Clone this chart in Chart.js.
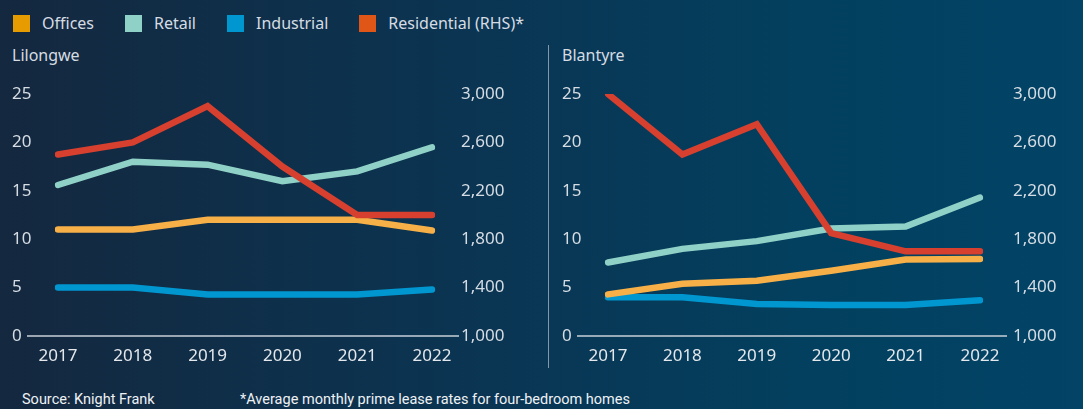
<!DOCTYPE html>
<html>
<head>
<meta charset="utf-8">
<script src="https://cdn.jsdelivr.net/npm/chart.js@4.4.0/dist/chart.umd.min.js"></script>
<style>
  html, body { margin: 0; padding: 0; }
  body {
    width: 1083px; height: 409px; overflow: hidden; position: relative;
    background: linear-gradient(90deg, #14283f 0%, #0a3553 45%, #03405f 75%, #024366 100%);
    font-family: "Noto Sans", sans-serif; color: #d6dce3;
  }
  #legend { position: absolute; left: 13px; top: 12px; display: flex; font-size: 16px; }
  #legend .item { display: flex; align-items: center; margin-right: 31px; }
  #legend .box { width: 17px; height: 17px; margin-right: 12px; }
  .title { position: absolute; top: 44px; font-size: 16px; }
  #divider { position: absolute; left: 548px; top: 45px; width: 1px; height: 323px; background: #8497a8; }
  .note { position: absolute; top: 391px; font-family: "Roboto", sans-serif; font-size: 14.5px; color: #eef1f4; }
  canvas { position: absolute; top: 75px; }
</style>
</head>
<body>
<div id="legend"></div>
<div class="title" style="left:12px">Lilongwe</div>
<div class="title" style="left:562px">Blantyre</div>
<div id="divider"></div>
<canvas id="lil" width="545" height="300" style="left:0"></canvas>
<canvas id="bla" width="535" height="300" style="left:548px"></canvas>
<div class="note" style="left:22px">Source: Knight Frank</div>
<div class="note" style="left:240px">*Average monthly prime lease rates for four-bedroom homes</div>
<script>
var years = ["2017", "2018", "2019", "2020", "2021", "2022"];

// Lilongwe
var lilOffices = [11, 11, 12, 12, 12, 10.9];
var lilRetail = [15.6, 18, 17.7, 16, 17, 19.5];
var lilIndustrial = [5, 5, 4.3, 4.3, 4.3, 4.8];
var lilResidential = [2500, 2600, 2900, 2400, 2000, 2000];

// Blantyre
var blaOffices = [4.3, 5.4, 5.7, 6.75, 7.9, 7.95];
var blaRetail = [7.6, 9, 9.8, 11.1, 11.3, 14.3];
var blaIndustrial = [4, 4, 3.3, 3.2, 3.2, 3.7];
var blaResidential = [3000, 2500, 2750, 1850, 1700, 1700];

var leftTicks = [0, 5, 10, 15, 20, 25];
var rightTicks = [1000, 1400, 1800, 2200, 2600, 3000];

var seriesNames = ["Offices", "Retail", "Industrial", "Residential (RHS)*"];
var legendColors = ["#e69b00", "#8fd1c6", "#0096cf", "#e05617"];
var lineColors = ["#f7af48", "#8fd1c6", "#0096cf", "#d7402f"];

// html legend shared by both charts
var legend = document.getElementById("legend");
seriesNames.forEach(function (name, i) {
  var it = document.createElement("div");
  it.className = "item";
  it.innerHTML = '<span class="box" style="background:' + legendColors[i] + '"></span>' + name;
  legend.appendChild(it);
});

// axis base line, a bit wider than the plot area
var baseLine = {
  id: "baseLine",
  afterDraw: function (chart) {
    var ctx = chart.ctx;
    var y = chart.scales.y.getPixelForValue(0);
    ctx.save();
    ctx.strokeStyle = "#c9d0d8";
    ctx.lineWidth = 1.5;
    ctx.beginPath();
    ctx.moveTo(chart.chartArea.left - 31, y);
    ctx.lineTo(chart.chartArea.right + 27, y);
    ctx.stroke();
    ctx.restore();
  }
};

var tickFont = { family: "Noto Sans", size: 17 };

function makeChart(id, offices, retail, industrial, residential, padLeft, rightWidth, rightGap) {
  var vals = [offices, retail, industrial, residential];
  var order = [2, 1, 3, 0];
  var datasets = vals.map(function (v, i) {
    return {
      label: seriesNames[i],
      data: v,
      yAxisID: i == 3 ? "y1" : "y",
      borderColor: lineColors[i],
      backgroundColor: lineColors[i],
      borderWidth: 6.5,
      borderCapStyle: "round",
      pointRadius: 0,
      tension: 0,
      order: order[i]
    };
  });
  return new Chart(document.getElementById(id), {
    type: "line",
    data: { labels: years, datasets: datasets },
    plugins: [baseLine],
    options: {
      responsive: false,
      animation: false,
      layout: { padding: { left: padLeft, top: 19, right: 0, bottom: 0 } },
      plugins: { legend: { display: false }, tooltip: { enabled: false } },
      scales: {
        x: {
          offset: false,
          grid: { display: false, drawTicks: false },
          border: { display: false },
          ticks: { color: "#e4e8ec", font: tickFont, padding: 10, maxRotation: 0 },
          afterFit: function (s) { s.height = 39; }
        },
        y: {
          position: "left",
          min: 0, max: 25,
          grid: { display: false, drawTicks: false },
          border: { display: false },
          afterBuildTicks: function (s) { s.ticks = leftTicks.map(function (v) { return { value: v }; }); },
          ticks: { color: "#d6dce3", font: tickFont, crossAlign: "far", padding: 0 },
          afterFit: function (s) { s.width = 46; }
        },
        y1: {
          position: "right",
          min: 1000, max: 3000,
          // invisible tick marks push the labels away from the plot
          grid: { display: true, drawOnChartArea: false, drawTicks: true, tickLength: rightGap, tickColor: "rgba(0,0,0,0)", color: "rgba(0,0,0,0)" },
          border: { display: false },
          afterBuildTicks: function (s) { s.ticks = rightTicks.map(function (v) { return { value: v }; }); },
          ticks: {
            color: "#d6dce3", font: tickFont, padding: 0,
            callback: function (v) { return v.toLocaleString("en-US"); }
          },
          afterFit: function (s) { s.width = rightWidth; }
        }
      }
    }
  });
}

makeChart("lil", lilOffices, lilRetail, lilIndustrial, lilResidential, 12, 113, 29);
makeChart("bla", blaOffices, blaRetail, blaIndustrial, blaResidential, 14, 103, 33);
</script>
</body>
</html>
